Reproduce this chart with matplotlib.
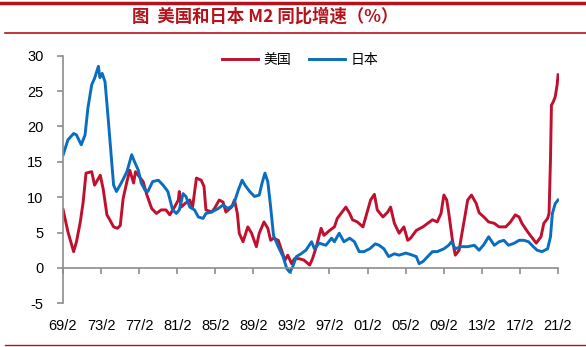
import matplotlib
matplotlib.use('Agg')
import matplotlib.pyplot as plt
from matplotlib.lines import Line2D

plt.rcParams['font.family'] = ['Liberation Sans', 'Noto Sans CJK SC', 'DejaVu Sans']
plt.rcParams['axes.unicode_minus'] = False

# 美国 M2 同比 (%), x in decimal years
us_year = [1969.1, 1969.6, 1970.2, 1970.5, 1970.9, 1971.2, 1971.5, 1972.1, 1972.4, 1972.7,
           1973.0, 1973.3, 1973.7, 1974.0, 1974.4, 1974.8, 1975.1, 1975.4, 1975.8, 1976.1,
           1976.5, 1976.7, 1977.1, 1977.5, 1977.9, 1978.4, 1978.9, 1979.4, 1979.9, 1980.3,
           1980.8, 1981.2, 1981.3, 1981.5, 1981.9, 1982.4, 1982.7, 1983.1, 1983.6, 1983.9,
           1984.1, 1984.7, 1985.0, 1985.5, 1985.9, 1986.2, 1986.8, 1987.1, 1987.4, 1987.6,
           1988.0, 1988.5, 1988.9, 1989.4, 1989.7, 1990.2, 1990.6, 1990.9, 1991.2, 1991.7,
           1992.0, 1992.4, 1992.7, 1993.1, 1993.4, 1993.9, 1994.4, 1995.0, 1995.3, 1995.7,
           1996.2, 1996.5, 1997.1, 1997.6, 1997.9, 1998.3, 1998.8, 1999.2, 1999.5, 2000.0,
           2000.6, 2001.1, 2001.4, 2001.8, 2002.1, 2002.7, 2003.2, 2003.5, 2003.9, 2004.4,
           2004.9, 2005.3, 2005.6, 2006.2, 2006.9, 2007.4, 2007.9, 2008.4, 2008.8, 2009.1,
           2009.4, 2009.6, 2010.0, 2010.3, 2010.7, 2011.0, 2011.3, 2011.6, 2012.0, 2012.5,
           2012.8, 2013.3, 2013.8, 2014.4, 2014.9, 2015.6, 2016.1, 2016.6, 2017.0, 2017.3,
           2017.9, 2018.4, 2018.8, 2019.3, 2019.6, 2020.0, 2020.15, 2020.3, 2020.4, 2020.6,
           2020.8, 2021.0, 2021.1]
us_m2 = [8.2, 5.1, 2.3, 3.7, 6.5, 9.3, 13.4, 13.6, 11.7, 12.4,
         13.1, 11.2, 7.5, 6.8, 5.8, 5.6, 6.0, 9.8, 12.2, 13.8,
         12.0, 13.6, 12.9, 12.2, 10.3, 8.4, 7.7, 8.2, 8.2, 7.5,
         8.6, 9.6, 10.8, 8.6, 9.1, 9.6, 8.6, 12.7, 12.4, 11.5,
         8.2, 7.9, 8.4, 9.6, 9.3, 7.9, 8.6, 9.6, 7.7, 4.9,
         3.7, 5.8, 4.9, 3.0, 4.9, 6.5, 5.6, 3.9, 4.2, 3.9,
         2.7, 1.1, 1.8, 0.6, 1.3, 1.3, 1.1, 0.4, 1.3, 3.0,
         5.6, 4.6, 5.3, 5.8, 7.0, 7.7, 8.6, 7.7, 6.8, 6.5,
         5.8, 8.2, 9.6, 10.4, 8.2, 7.2, 7.9, 8.6, 6.3, 4.9,
         5.8, 3.9, 4.2, 5.3, 5.8, 6.3, 6.8, 6.5, 7.7, 10.3,
         9.6, 7.9, 3.9, 1.8, 2.5, 4.9, 7.2, 9.6, 10.3, 9.1,
         7.8, 7.2, 6.5, 6.3, 5.8, 5.8, 6.5, 7.5, 7.2, 6.3,
         5.1, 4.2, 3.5, 4.4, 6.3, 7.0, 7.7, 15.3, 23.0, 23.5,
         24.2, 25.9, 27.3]

# 日本 M2 同比 (%)
jp_year = [1969.1, 1969.6, 1970.2, 1970.5, 1971.0, 1971.4, 1971.7, 1972.1, 1972.4, 1972.8,
           1972.96, 1973.2, 1973.5, 1973.8, 1974.2, 1974.4, 1974.7, 1975.2, 1975.8, 1976.3,
           1976.6, 1977.0, 1977.3, 1977.7, 1978.0, 1978.5, 1979.1, 1979.6, 1980.1, 1980.6,
           1981.0, 1981.3, 1981.7, 1982.0, 1982.4, 1982.9, 1983.3, 1983.8, 1984.1, 1984.7,
           1985.4, 1985.9, 1986.4, 1987.0, 1987.5, 1987.9, 1988.2, 1988.7, 1989.2, 1989.7,
           1990.0, 1990.3, 1990.6, 1990.9, 1991.2, 1991.7, 1992.2, 1992.6, 1992.9, 1993.2,
           1993.6, 1994.1, 1994.6, 1995.2, 1995.5, 1996.0, 1996.7, 1997.3, 1997.6, 1998.1,
           1998.6, 1999.2, 1999.7, 2000.2, 2000.7, 2001.3, 2001.9, 2002.3, 2002.8, 2003.3,
           2003.9, 2004.4, 2005.1, 2005.8, 2006.2, 2006.5, 2006.9, 2007.4, 2007.9, 2008.4,
           2009.1, 2009.6, 2009.9, 2010.3, 2010.9, 2011.6, 2012.3, 2012.8, 2013.3, 2013.8,
           2014.4, 2014.9, 2015.4, 2015.9, 2016.5, 2017.0, 2017.5, 2018.0, 2018.5, 2018.9,
           2019.4, 2020.0, 2020.3, 2020.5, 2020.8, 2021.1]
jp_m2 = [16.0, 18.1, 19.0, 18.8, 17.4, 18.8, 22.6, 25.9, 26.8, 28.5,
         26.9, 27.5, 26.3, 21.6, 15.0, 11.7, 10.8, 12.0, 13.6, 16.0,
         15.0, 13.8, 12.0, 11.0, 10.8, 12.2, 12.4, 11.7, 10.8, 8.2,
         7.7, 8.2, 10.5, 10.1, 8.6, 8.2, 7.2, 7.0, 7.7, 7.9,
         8.4, 8.9, 8.4, 8.9, 11.0, 12.4, 11.7, 10.8, 10.1, 10.3,
         12.0, 13.4, 12.2, 8.6, 4.6, 3.0, 1.6, -0.1, -0.6, 0.1,
         1.6, 2.0, 2.5, 3.7, 2.7, 3.5, 3.2, 4.2, 3.7, 4.9,
         3.7, 4.2, 3.7, 2.3, 2.3, 2.7, 3.4, 3.2, 2.7, 1.6,
         2.0, 1.8, 2.1, 1.8, 1.6, 0.6, 0.9, 1.6, 2.3, 2.3,
         2.7, 3.2, 3.7, 2.7, 3.0, 3.0, 3.2, 2.5, 3.3, 4.4,
         3.2, 3.7, 3.9, 3.2, 3.5, 3.9, 3.9, 3.7, 3.0, 2.5,
         2.3, 2.7, 4.4, 7.7, 9.1, 9.6]

tick_year = [1969.083 + 4 * i for i in range(14)]
tick_labels = ['69/2', '73/2', '77/2', '81/2', '85/2', '89/2', '93/2',
               '97/2', '01/2', '05/2', '09/2', '13/2', '17/2', '21/2']

red = '#C0102E'
blue = '#0A6EC0'
title_red = '#B5121B'

fig = plt.figure(figsize=(5.86, 3.47), dpi=100)
ax = fig.add_axes([0.1075, 0.126, 0.8465, 0.7135])

ax.plot(us_year, us_m2, color=red, lw=2.1, label='美国')
ax.plot(jp_year, jp_m2, color=blue, lw=2.1, label='日本')

ax.set_xlim(1969.083, 2021.2)
ax.set_ylim(-5, 30)
ax.set_yticks(range(-5, 31, 5))
ax.set_xticks(tick_year)
ax.set_xticklabels(tick_labels)

for s in ['top', 'right']:
    ax.spines[s].set_visible(False)
ax.spines['bottom'].set_position(('data', 0))
ax.spines['bottom'].set_bounds(1969.083, 2021.083)
for s in ['left', 'bottom']:
    ax.spines[s].set_color('#8c8c8c')
    ax.spines[s].set_linewidth(1.2)
ax.tick_params(axis='y', length=4, width=1.2, color='#8c8c8c', pad=10, labelsize=10.5)
ax.tick_params(axis='x', length=4, width=1.2, color='#8c8c8c', pad=33, labelsize=10.5)

handles = [Line2D([], [], color=red, lw=2.1), Line2D([], [], color=blue, lw=2.1)]
fig.legend(handles, ['美国', '日本'], loc='center', bbox_to_anchor=(0.512, 0.827),
           ncol=2, frameon=False, handlelength=2.6, handletextpad=0.4,
           columnspacing=1.3, prop={'family': ['Noto Sans CJK SC'], 'size': 10})

# title and red rules
fig.text(0.452, 0.951, '图  美国和日本 M2 同比增速（%）', ha='center', va='center',
         fontsize=12.5, fontweight='bold', color=title_red,
         family=['Noto Sans CJK SC', 'DejaVu Sans'])
fig.add_artist(Line2D([0, 1], [0.991, 0.991], color=title_red, lw=2.5))
fig.add_artist(Line2D([0.008, 1], [0.905, 0.905], color=title_red, lw=1.2))
fig.add_artist(Line2D([0.008, 1], [0.006, 0.006], color=title_red, lw=1.0))

fig.savefig('out.png', dpi=100)
